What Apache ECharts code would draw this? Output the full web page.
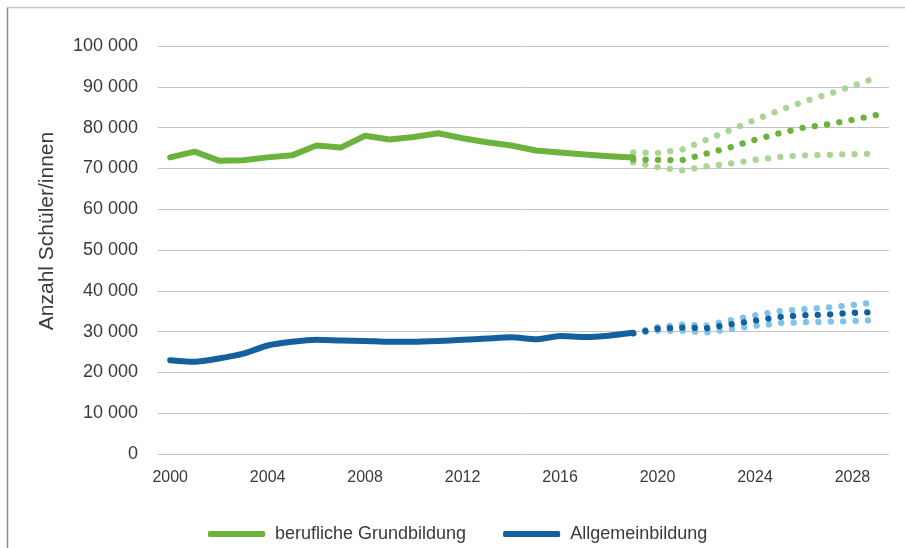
<!DOCTYPE html>
<html>
<head>
<meta charset="utf-8">
<script src="https://cdn.jsdelivr.net/npm/echarts@6/dist/echarts.min.js"></script>
<style>
html,body{margin:0;padding:0;background:#fff;}
#chart{width:905px;height:548px;}
</style>
</head>
<body>
<div id="chart"></div>
<script>
var years = ['2000','2001','2002','2003','2004','2005','2006','2007','2008','2009',
    '2010','2011','2012','2013','2014','2015','2016','2017','2018','2019',
    '2020','2021','2022','2023','2024','2025','2026','2027','2028','2029'];

// Ist-Werte 2000-2019
var berufGrund = [72700, 74100, 71900, 72000, 72700, 73200, 75600, 75100, 78000, 77100,
    77700, 78600, 77400, 76400, 75600, 74400, 73900, 73400, 73000, 72700];
var allgemein = [23000, 22600, 23400, 24600, 26600, 27500, 28000, 27800, 27700, 27500,
    27500, 27700, 28000, 28300, 28600, 28100, 28900, 28700, 29000, 29700];

// Szenarien 2019-2029
var gHoch = [73900, 73800, 74600, 77000, 79400, 81900, 84200, 86400, 88200, 90200, 92300];
var gRef  = [72200, 72100, 72000, 73600, 75200, 77000, 78600, 80000, 80800, 81900, 83100];
var gTief = [71500, 70300, 69500, 70500, 71200, 72100, 72800, 73200, 73300, 73500, 73600];
var bHoch = [29600, 31100, 31700, 31500, 32800, 34000, 35000, 35500, 35900, 36500, 37200];
var bRef  = [29600, 30700, 31000, 30800, 31800, 32700, 33600, 34000, 34200, 34600, 34800];
var bTief = [29600, 30200, 30200, 29800, 30600, 31400, 32100, 32300, 32400, 32600, 32800];

var yTicks = [0, 10000, 20000, 30000, 40000, 50000, 60000, 70000, 80000, 90000, 100000];

var GREEN = '#6cb33e', GREEN_L = '#acd494', BLUE = '#14609e', BLUE_L = '#7fc3eb';

// Prognose ab 2019 auf die Kategorienachse legen
function prognose(vals){
    var out = [];
    var start = years.indexOf('2019');
    for(var i=0; i<years.length; i++){
        out.push(i>=start && i-start<vals.length ? vals[i-start] : null);
    }
    return out;
}

function punktLinie(name, vals, color){
    return {
        name: name,
        type: 'line',
        data: prognose(vals),
        symbol: 'none',
        silent: true,
        lineStyle: {color: color, width: 6.3, type: [0.1, 12.3], cap: 'round'},
        z: 2
    };
}

function fmt(v){
    var s = String(v);
    if(s.length>3) s = s.slice(0, s.length-3) + ' ' + s.slice(s.length-3);
    return s;
}

var chart = echarts.init(document.getElementById('chart'));
chart.setOption({
    animation: false,
    textStyle: {fontFamily: 'Liberation Sans, Arial, sans-serif'},
    grid: {left: 158, right: 16, top: 46, bottom: 94},
    legend: {
        data: ['berufliche Grundbildung', 'Allgemeinbildung'],
        left: 203,
        top: 520,
        icon: 'roundRect',
        itemWidth: 57,
        itemHeight: 6,
        itemGap: 37,
        textStyle: {fontSize: 18, color: '#3a3a3a', padding: [0, 0, 0, 5]}
    },
    xAxis: {
        type: 'category',
        data: years,
        boundaryGap: true,
        axisLine: {show: false},
        axisTick: {show: false},
        axisLabel: {interval: 3, fontSize: 16, color: '#3a3a3a', margin: 16}
    },
    yAxis: {
        type: 'value',
        min: yTicks[0],
        max: yTicks[yTicks.length-1],
        interval: 10000,
        axisLine: {show: false},
        axisTick: {show: false},
        axisLabel: {fontSize: 18, color: '#3a3a3a', margin: 20, formatter: fmt},
        splitLine: {lineStyle: {color: '#c4c4c4', width: 1}}
    },
    graphic: [
        {type: 'line', shape: {x1: 7.5, y1: 7.5, x2: 905, y2: 7.5}, style: {stroke: '#c6c6c6', lineWidth: 1.5}, silent: true},
        {type: 'line', shape: {x1: 7.5, y1: 7.5, x2: 7.5, y2: 548}, style: {stroke: '#8e8e8e', lineWidth: 1.5}, silent: true},
        {type: 'text', x: 47, y: 231, rotation: Math.PI/2,
         style: {text: 'Anzahl Schüler/innen', fontSize: 21, fill: '#3a3a3a',
                 fontFamily: 'Liberation Sans, Arial, sans-serif', align: 'center', verticalAlign: 'middle'}}
    ],
    series: [
        punktLinie('gHoch', gHoch, GREEN_L),
        punktLinie('gTief', gTief, GREEN_L),
        punktLinie('gRef', gRef, GREEN),
        punktLinie('bHoch', bHoch, BLUE_L),
        punktLinie('bTief', bTief, BLUE_L),
        punktLinie('bRef', bRef, BLUE),
        {
            name: 'berufliche Grundbildung',
            type: 'line',
            data: berufGrund,
            symbol: 'none',
            itemStyle: {color: GREEN},
            lineStyle: {color: GREEN, width: 6, cap: 'round', join: 'round'},
            z: 3
        },
        {
            name: 'Allgemeinbildung',
            type: 'line',
            data: allgemein,
            symbol: 'none',
            smooth: 0.2,
            itemStyle: {color: BLUE},
            lineStyle: {color: BLUE, width: 6, cap: 'round', join: 'round'},
            z: 3
        }
    ]
});
</script>
</body>
</html>
